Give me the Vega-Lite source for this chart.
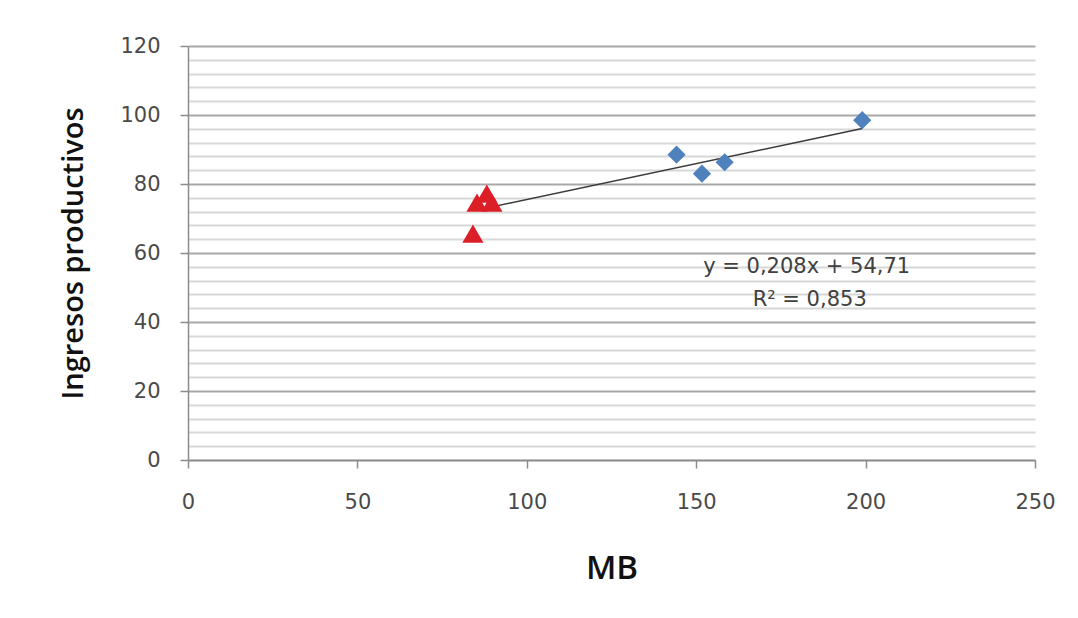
{
  "$schema": "https://vega.github.io/schema/vega-lite/v6.json",
  "width": 847,
  "height": 414,
  "autosize": {"type": "none"},
  "padding": {"left": 188, "top": 46, "right": 43, "bottom": 158},
  "background": "white",
  "config": {"view": {"stroke": null}, "font": "DejaVu Sans"},
  "datasets": {
    "diamantes": [
      {"mb": 144.2, "ingresos": 88.5},
      {"mb": 151.7, "ingresos": 83.0},
      {"mb": 158.4, "ingresos": 86.3},
      {"mb": 199.0, "ingresos": 98.5}
    ],
    "triangulos": [
      {"mb": 84.1, "ingresos": 65.6},
      {"mb": 85.3, "ingresos": 74.6},
      {"mb": 89.7, "ingresos": 74.6},
      {"mb": 88.2, "ingresos": 77.2}
    ],
    "tendencia": [
      {"mb": 88.0, "ingresos": 73.01},
      {"mb": 199.0, "ingresos": 96.10}
    ],
    "ecuacion": [
      {"mb": 182.6, "ingresos": 56.0, "texto": "y = 0,208x + 54,71"},
      {"mb": 183.5, "ingresos": 46.4, "texto": "R² = 0,853"}
    ]
  },
  "layer": [
    {
      "data": {"name": "tendencia"},
      "mark": {"type": "line", "color": "#3a3a3a", "strokeWidth": 1.5},
      "encoding": {
        "x": {
          "field": "mb", "type": "quantitative",
          "scale": {"domain": [0, 250], "nice": false},
          "axis": {
            "title": "MB",
            "values": [0, 50, 100, 150, 200, 250],
            "tickCount": 10,
            "labelFlush": false,
            "grid": false,
            "domainColor": "#8c8c8c", "domainWidth": 1.5,
            "tickColor": "#8c8c8c", "tickSize": 8, "tickWidth": 1.5,
            "labelFont": "DejaVu Sans", "labelFontSize": 21, "labelColor": "#4a4a4a",
            "labelPadding": 23,
            "titleFont": "Open Sans", "titleFontSize": 33, "titleFontWeight": 600, "titleColor": "#111111",
            "titlePadding": 40
          }
        },
        "y": {
          "field": "ingresos", "type": "quantitative",
          "scale": {"domain": [0, 120], "nice": false},
          "axis": {
            "title": "Ingresos productivos",
            "values": [0, 4, 8, 12, 16, 20, 24, 28, 32, 36, 40, 44, 48, 52, 56, 60, 64, 68, 72, 76, 80, 84, 88, 92, 96, 100, 104, 108, 112, 116, 120],
            "tickCount": 40,
            "labelOverlap": false,
            "labelExpr": "datum.value % 20 === 0 ? datum.label : ''",
            "grid": true,
            "gridColor": {"condition": {"test": "datum.value % 20 === 0", "value": "#a8a8a8"}, "value": "#d8d8d8"},
            "gridWidth": 2,
            "domainColor": "#8c8c8c", "domainWidth": 1.5,
            "tickColor": {"condition": {"test": "datum.value % 20 === 0", "value": "#8c8c8c"}, "value": "transparent"},
            "tickSize": 8, "tickWidth": 1.5,
            "labelFont": "DejaVu Sans", "labelFontSize": 21, "labelColor": "#4a4a4a",
            "labelPadding": 20,
            "titleFont": "Open Sans", "titleFontSize": 29, "titleFontWeight": 600, "titleColor": "#111111",
            "titleAngle": -90, "titleX": -115, "titleY": 207, "titleAnchor": "middle", "titleBaseline": "middle"
          }
        }
      }
    },
    {
      "data": {"name": "diamantes"},
      "mark": {"type": "point", "shape": "diamond", "filled": true, "size": 330, "color": "#4f81bd", "opacity": 1},
      "encoding": {
        "x": {"field": "mb", "type": "quantitative"},
        "y": {"field": "ingresos", "type": "quantitative"}
      }
    },
    {
      "data": {"name": "triangulos"},
      "mark": {"type": "point", "shape": "triangle-up", "filled": true, "size": 450, "color": "#dc1f26", "opacity": 1},
      "encoding": {
        "x": {"field": "mb", "type": "quantitative"},
        "y": {"field": "ingresos", "type": "quantitative"}
      }
    },
    {
      "data": {"name": "ecuacion"},
      "mark": {"type": "text", "font": "DejaVu Sans", "fontSize": 21, "color": "#404040", "align": "center", "baseline": "middle"},
      "encoding": {
        "x": {"field": "mb", "type": "quantitative"},
        "y": {"field": "ingresos", "type": "quantitative"},
        "text": {"field": "texto"}
      }
    }
  ]
}
